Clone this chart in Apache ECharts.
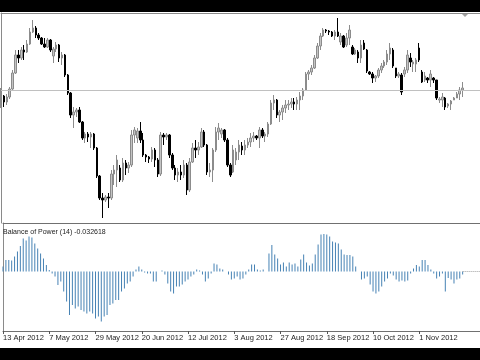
<!DOCTYPE html>
<html><head><meta charset="utf-8">
<script src="https://cdn.jsdelivr.net/npm/echarts@6/dist/echarts.min.js"></script>
<style>
html,body{margin:0;padding:0;background:#000;width:480px;height:360px;overflow:hidden}
#c{position:absolute;left:0;top:12px;width:480px;height:336px;background:#fff}
</style></head><body><div id="c"></div>
<script>
// x-axis tick labels, one every 16 bars
const tickLabels = ['13 Apr 2012','7 May 2012','29 May 2012','20 Jun 2012','12 Jul 2012','3 Aug 2012','27 Aug 2012','18 Sep 2012','10 Oct 2012','1 Nov 2012'];
const tickStep = 16;
// candles: [open, close, low, high]
const candles = [
[1396,1404,1392,1412],[1404,1398,1393,1405],[1398,1403,1395,1406],[1403,1411,1401,1413],[1411,1427,1410,1430],
[1427,1445,1426,1450],[1445,1442,1437,1450],[1442,1450,1440,1453],[1450,1448,1440,1455],[1448,1456,1447,1460],
[1456,1468,1455,1472],[1468,1472,1467,1480],[1472,1465,1462,1474],[1465,1462,1460,1467],[1462,1456,1455,1463],
[1456,1453,1452,1462],[1453,1460,1452,1462],[1460,1450,1448,1461],[1444,1451,1437,1453],[1451,1455,1448,1458],
[1455,1442,1438,1456],[1442,1445,1435,1448],[1445,1425,1423,1446],[1425,1407,1405,1426],[1407,1385,1382,1408],
[1385,1388,1372,1393],[1388,1390,1383,1392],[1390,1378,1377,1393],[1378,1362,1360,1379],[1362,1366,1357,1368],
[1366,1363,1358,1368],[1363,1366,1352,1368],[1366,1352,1350,1367],[1352,1324,1322,1353],[1324,1302,1300,1325],
[1302,1300,1282,1307],[1300,1303,1298,1305],[1303,1302,1292,1307],[1302,1326,1300,1330],[1326,1330,1315,1335],
[1330,1340,1313,1345],[1332,1320,1318,1335],[1320,1337,1318,1342],[1337,1332,1325,1340],[1332,1335,1327,1338],
[1335,1365,1333,1370],[1365,1370,1357,1373],[1362,1369,1357,1372],[1369,1360,1357,1378],[1360,1345,1343,1367],
[1345,1343,1338,1346],[1343,1341,1337,1344],[1341,1350,1338,1353],[1350,1340,1333,1352],[1340,1326,1323,1342],
[1326,1365,1324,1368],[1365,1363,1355,1367],[1363,1365,1360,1367],[1365,1345,1342,1366],[1345,1332,1330,1347],
[1332,1325,1320,1335],[1325,1328,1318,1332],[1328,1325,1320,1335],[1325,1335,1322,1340],[1335,1310,1305,1337],
[1310,1338,1308,1342],[1338,1352,1337,1357],[1352,1350,1342,1360],[1350,1353,1345,1358],[1353,1368,1352,1372],
[1368,1355,1353,1370],[1355,1328,1325,1356],[1328,1330,1323,1337],[1330,1350,1318,1352],[1350,1368,1348,1373],
[1368,1372,1360,1377],[1366,1370,1362,1372],[1370,1360,1358,1371],[1360,1335,1333,1362],[1335,1325,1323,1337],
[1328,1350,1327,1355],[1340,1348,1335,1352],[1348,1355,1340,1360],[1354,1350,1345,1358],[1350,1355,1345,1360],
[1355,1358,1352,1362],[1358,1362,1353,1367],[1362,1364,1358,1368],[1364,1362,1360,1365],[1362,1370,1352,1373],
[1370,1364,1362,1372],[1364,1366,1358,1368],[1366,1376,1363,1378],[1376,1397,1375,1400],[1397,1400,1390,1405],
[1400,1385,1382,1401],[1385,1388,1378,1390],[1388,1392,1380,1395],[1392,1395,1387,1400],[1395,1396,1390,1400],
[1396,1398,1392,1402],[1398,1396,1390,1402],[1396,1400,1390,1403],[1400,1404,1390,1408],[1404,1410,1400,1412],
[1410,1426,1409,1428],[1426,1428,1420,1430],[1428,1432,1425,1435],[1432,1442,1431,1445],[1442,1454,1441,1457],
[1454,1464,1450,1467],[1464,1470,1463,1472],[1470,1469,1467,1471],[1469,1468,1465,1470],[1468,1464,1463,1469],
[1464,1468,1460,1470],[1468,1464,1463,1482],[1458,1464,1455,1467],[1464,1453,1452,1465],[1455,1462,1453,1467],
[1462,1470,1455,1475],[1453,1446,1445,1455],[1446,1450,1445,1452],[1448,1442,1437,1450],[1442,1455,1437,1460],
[1457,1451,1450,1460],[1450,1429,1427,1451],[1428,1426,1425,1429],[1426,1422,1417,1428],[1422,1424,1418,1425],
[1424,1430,1422,1432],[1430,1434,1427,1437],[1434,1438,1432,1440],[1438,1446,1435,1450],[1446,1452,1440,1457],
[1450,1434,1432,1452],[1432,1424,1422,1432],[1424,1426,1422,1428],[1425,1408,1405,1427],[1426,1430,1423,1433],
[1430,1445,1427,1450],[1442,1438,1433,1447],[1436,1438,1428,1440],[1436,1440,1428,1442],[1452,1440,1438,1457],
[1428,1418,1417,1430],[1420,1424,1418,1428],[1422,1420,1417,1423],[1420,1426,1413,1430],[1422,1420,1417,1423],
[1420,1402,1400,1420],[1400,1401,1397,1403],[1400,1403,1393,1407],[1402,1393,1390,1403],[1394,1396,1392,1397],
[1396,1399,1390,1400],[1400,1402,1400,1403],[1402,1406,1402,1408],[1406,1410,1400,1413],[1410,1412,1403,1418]
];
// Balance of Power (14)
const bop = [
0.05,0.115,0.115,0.11,0.15,0.20,0.255,0.33,0.31,0.35,0.34,0.28,0.23,0.18,0.13,0.065,0.015,-0.02,-0.05,-0.135,
-0.10,-0.20,-0.30,-0.435,-0.335,-0.37,-0.35,-0.385,-0.40,-0.42,-0.40,-0.42,-0.47,-0.45,-0.50,-0.45,-0.435,-0.335,-0.32,-0.285,
-0.285,-0.20,-0.17,-0.12,-0.10,-0.05,0.02,0.05,0.02,-0.01,-0.02,-0.02,-0.10,-0.10,
0.0,0.01,-0.03,-0.12,-0.2,-0.22,-0.15,-0.15,-0.13,-0.1,-0.08,-0.05,-0.03,0.02,0.01,-0.03,-0.10,-0.07,-0.02,0.08,
0.07,0.03,0.02,0.0,-0.03,-0.08,-0.07,-0.05,-0.08,-0.07,-0.03,0.02,0.07,0.07,0.02,0.01,0.02,0.0,0.18,0.265,
0.17,0.13,0.07,0.09,0.05,0.09,0.07,0.08,0.05,0.12,0.17,0.09,0.06,0.08,0.17,0.27,
0.37,0.375,0.37,0.35,0.30,0.29,0.28,0.22,0.17,0.165,0.165,0.15,0.05,0.0,-0.08,-0.07,-0.05,-0.13,-0.2,-0.22,
-0.2,-0.15,-0.10,-0.07,-0.02,-0.04,-0.08,-0.10,-0.09,-0.10,-0.09,-0.02,0.03,0.065,0.05,0.115,0.115,0.065,0.02,-0.02,
-0.07,-0.05,-0.02,-0.20,-0.065,-0.08,-0.12,-0.08,-0.07,-0.03
];
const bopLabel = 'Balance of Power (14) -0.032618';
const levelPrice = 1410;
const extraSlots = 6;

const N = candles.length + extraSlots;
const cats = Array.from({length: N}, (_, i) => String(i));
const showTick = (i) => i % tickStep === 0 && (i / tickStep) < tickLabels.length;
const frame = (color) => ({show: true, onZero: false, lineStyle: {color: color, width: 1}});

const chart = echarts.init(document.getElementById('c'), null, {renderer: 'canvas'});
chart.setOption({
  animation: false,
  backgroundColor: '#ffffff',
  title: {
    text: bopLabel, left: 3, top: 217, padding: 0,
    textStyle: {fontFamily: 'Liberation Sans', fontSize: 7, fontWeight: 'normal', color: '#222'}
  },
  grid: [
    {left: 1, width: 481, top: 1, height: 210, show: false},
    {left: 1, width: 481, top: 211, height: 108, show: false}
  ],
  xAxis: [
    {type: 'category', gridIndex: 0, data: cats, boundaryGap: false, position: 'top',
     axisLine: frame('#8a8a8a'), axisTick: {show: false}, axisLabel: {show: false}, splitLine: {show: false}},
    {type: 'category', gridIndex: 1, data: cats, boundaryGap: false, position: 'bottom',
     axisLine: frame('#707070'),
     axisTick: {show: true, length: 3, interval: (i) => showTick(i), lineStyle: {color: '#555'}},
     axisLabel: {show: true, interval: (i) => showTick(i), formatter: (v, i) => tickLabels[i / tickStep],
       align: 'left', margin: 3, fontFamily: 'Liberation Sans', fontSize: 7.5, color: '#222'},
     splitLine: {show: false}},
    {type: 'category', gridIndex: 1, data: cats, boundaryGap: false, position: 'top',
     axisLine: frame('#707070'), axisTick: {show: false}, axisLabel: {show: false}, splitLine: {show: false}}
  ],
  yAxis: [
    {type: 'value', gridIndex: 0, min: 1277, max: 1487, position: 'left',
     axisLine: frame('#8a8a8a'), axisTick: {show: false}, axisLabel: {show: false}, splitLine: {show: false}},
    {type: 'value', gridIndex: 1, min: -0.595, max: 0.485, position: 'left',
     axisLine: frame('#8a8a8a'), axisTick: {show: false}, axisLabel: {show: false}, splitLine: {show: false}}
  ],
  graphic: [
    {type: 'polygon', shape: {points: [[462, 2], [468, 2], [465, 5]]}, style: {fill: '#a0a0a0'}}
  ],
  series: [
    {
      type: 'candlestick', xAxisIndex: 0, yAxisIndex: 0, data: candles, barWidth: 2,
      itemStyle: {color: '#c4c4c4', color0: '#000000', borderColor: '#8c8c8c', borderColor0: '#000000', borderWidth: 1},
      markLine: {silent: true, symbol: 'none', label: {show: false},
        lineStyle: {color: '#c0c0c0', type: 'solid', width: 1},
        data: [{yAxis: levelPrice}]}
    },
    {
      type: 'bar', xAxisIndex: 1, yAxisIndex: 1, data: bop, barWidth: 1,
      itemStyle: {color: '#4682b4'},
      markLine: {silent: true, symbol: 'none', label: {show: false},
        lineStyle: {color: '#a0a0a0', type: 'dotted', width: 1},
        data: [[{coord: [cats[bop.length - 1], 0]}, {coord: [cats[N - 1], 0]}]]}
    }
  ]
});
</script></body></html>
